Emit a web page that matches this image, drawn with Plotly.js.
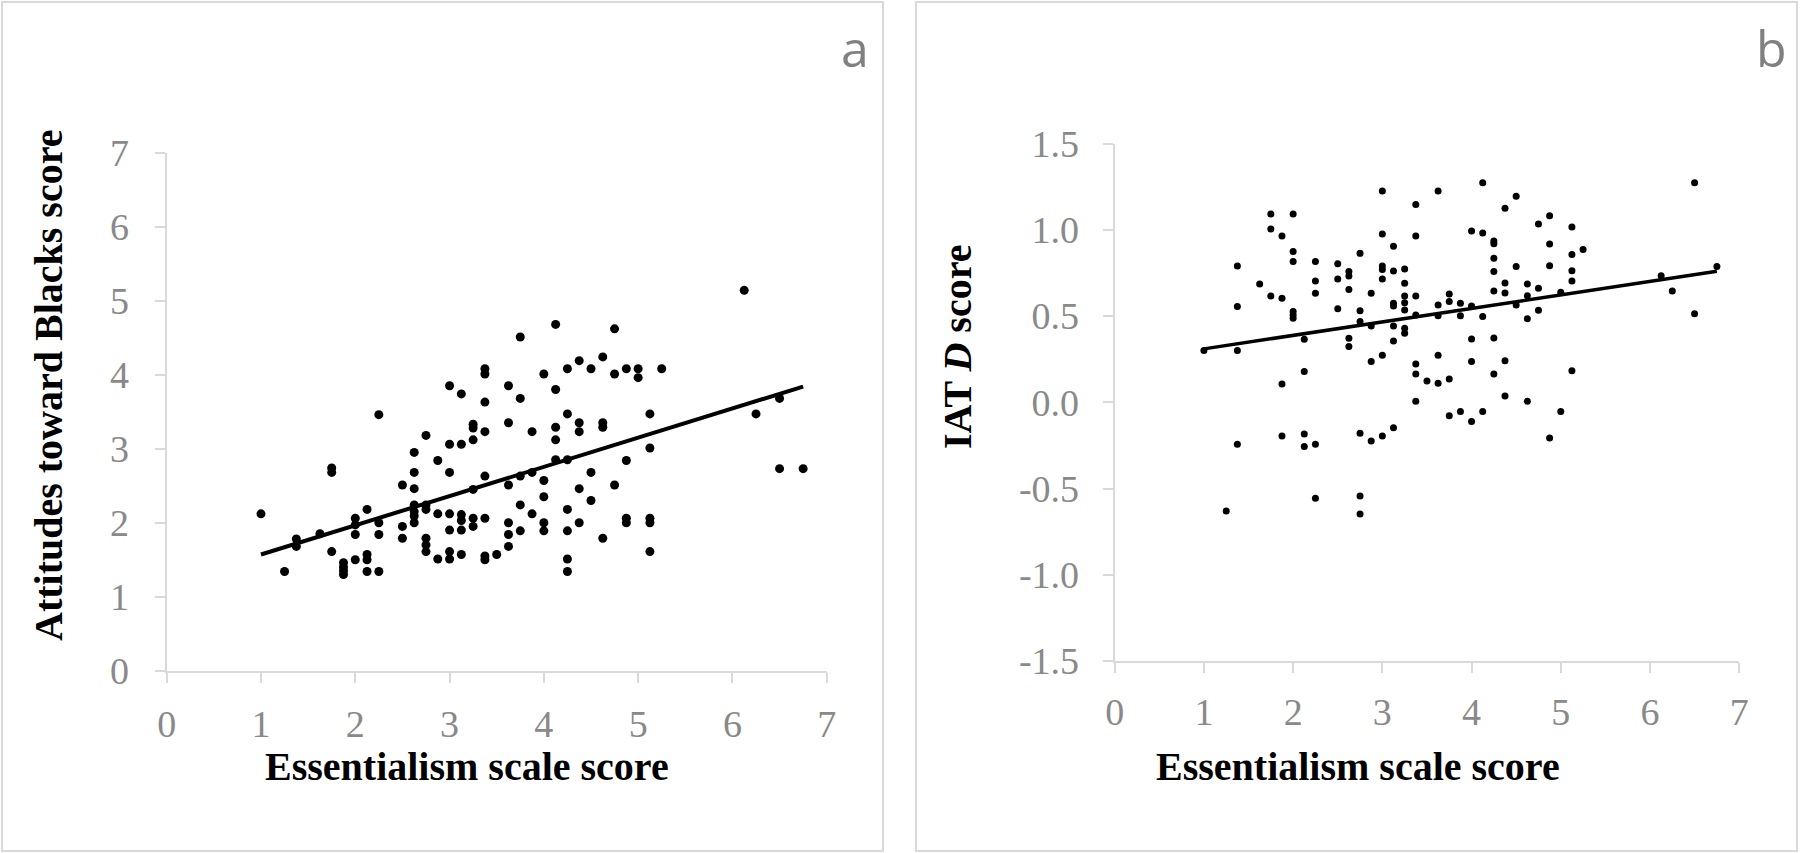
<!DOCTYPE html>
<html>
<head>
<meta charset="utf-8">
<script src="https://cdn.plot.ly/plotly-3.0.1.min.js"></script>
<style>html,body{margin:0;padding:0;background:#fff;}#chart{width:1800px;height:853px;}</style>
</head>
<body>
<div id="chart"></div>
<script>
// Panel a: Essentialism scale score vs Attitudes toward Blacks score
const essA = [1, 1.25, 1.375, 1.375, 1.625, 1.75, 1.75, 1.75,
  1.875, 1.875, 1.875, 1.875, 2, 2, 2, 2, 2.125, 2.125, 2.125, 2.125,
  2.25, 2.25, 2.25, 2.25, 2.5, 2.5, 2.5,
  2.625, 2.625, 2.625, 2.625, 2.625, 2.625, 2.625,
  2.75, 2.75, 2.75, 2.75, 2.75, 2.75, 2.875, 2.875, 2.875,
  3, 3, 3, 3, 3, 3, 3, 3.125, 3.125, 3.125, 3.125, 3.125, 3.125,
  3.25, 3.25, 3.25, 3.25, 3.25, 3.25,
  3.375, 3.375, 3.375, 3.375, 3.375, 3.375, 3.375, 3.375, 3.5,
  3.625, 3.625, 3.625, 3.625, 3.625, 3.625, 3.75, 3.75, 3.75, 3.75, 3.75,
  3.875, 3.875, 3.875, 4, 4, 4, 4, 4, 4.125, 4.125, 4.125, 4.125, 4.125,
  4.25, 4.25, 4.25, 4.25, 4.25, 4.25, 4.25, 4.375, 4.375, 4.375, 4.375, 4.375,
  4.5, 4.5, 4.5, 4.625, 4.625, 4.625, 4.625, 4.75, 4.75, 4.75,
  4.875, 4.875, 4.875, 4.875, 5, 5, 5.125, 5.125, 5.125, 5.125, 5.125, 5.25,
  6.125, 6.25, 6.5, 6.5, 6.75];
const attA = [2.12, 1.34, 1.78, 1.68, 1.85, 2.74, 2.68, 1.61,
  1.46, 1.40, 1.35, 1.30, 2.06, 1.97, 1.84, 1.50, 2.18, 1.57, 1.50, 1.34,
  3.46, 2.00, 1.84, 1.34, 2.51, 1.95, 1.79,
  2.95, 2.68, 2.46, 2.24, 2.15, 2.09, 2.00,
  3.18, 2.24, 2.18, 1.79, 1.70, 1.61, 2.84, 2.12, 1.51,
  3.85, 3.06, 2.68, 2.12, 1.90, 1.61, 1.51, 3.74, 3.06, 2.11, 2.03, 1.90, 1.57,
  3.33, 3.28, 3.12, 2.45, 2.06, 1.95,
  4.08, 4.01, 3.63, 3.23, 2.63, 2.06, 1.55, 1.50, 1.57,
  3.85, 3.35, 2.51, 2.00, 1.84, 1.68, 4.51, 3.68, 2.63, 2.24, 1.89,
  3.23, 2.68, 2.12, 4.01, 2.57, 2.35, 2.00, 1.89, 4.68, 3.80, 3.29, 3.12, 2.85,
  4.08, 3.47, 2.85, 2.18, 1.89, 1.51, 1.34, 4.19, 3.35, 3.23, 2.46, 2.00,
  4.08, 2.68, 2.30, 4.24, 3.35, 3.29, 1.79, 4.62, 4.01, 2.51,
  4.08, 2.84, 2.06, 2.00, 4.08, 3.96, 3.47, 3.01, 2.06, 2.00, 1.61, 4.08,
  5.14, 3.47, 3.68, 2.73, 2.73];
const trendAx = [1, 6.75];
const trendAy = [1.57, 3.84];

// Panel b: Essentialism scale score vs IAT D score
const essB = [1, 1.25, 1.375, 1.375, 1.375, 1.375, 1.625, 1.75, 1.75, 1.75,
  1.875, 1.875, 1.875, 1.875, 2, 2, 2, 2, 2, 2, 2.125, 2.125, 2.125, 2.125,
  2.25, 2.25, 2.25, 2.25, 2.25, 2.5, 2.5, 2.5, 2.625, 2.625, 2.625, 2.625, 2.625,
  2.75, 2.75, 2.75, 2.75, 2.75, 2.75, 2.875, 2.875, 2.875, 2.875,
  3, 3, 3, 3, 3, 3, 3, 3.125, 3.125, 3.125, 3.125, 3.125, 3.125, 3.125,
  3.25, 3.25, 3.25, 3.25, 3.25, 3.25, 3.25, 3.375, 3.375, 3.375, 3.375, 3.375, 3.375, 3.375,
  3.5, 3.625, 3.625, 3.625, 3.625, 3.625, 3.75, 3.75, 3.75, 3.75, 3.875, 3.875, 3.875,
  4, 4, 4, 4, 4, 4.125, 4.125, 4.125, 4.125,
  4.25, 4.25, 4.25, 4.25, 4.25, 4.25, 4.25, 4.375, 4.375, 4.375, 4.375, 4.375,
  4.5, 4.5, 4.5, 4.625, 4.625, 4.625, 4.625, 4.75, 4.75, 4.75,
  4.875, 4.875, 4.875, 4.875, 5, 5, 5.125, 5.125, 5.125, 5.125, 5.125, 5.25,
  6.125, 6.25, 6.5, 6.5, 6.75];
const iatB = [0.30, -0.63, 0.79, 0.555, 0.30, -0.244, 0.686, 1.092, 1.005, 0.617,
  0.965, 0.603, 0.106, -0.195, 1.092, 0.874, 0.816, 0.526, 0.506, 0.487, 0.365, 0.178, -0.184, -0.257,
  0.816, 0.704, 0.632, -0.244, -0.557, 0.804, 0.715, 0.543, 0.758, 0.733, 0.655, 0.371, 0.323,
  0.864, 0.531, 0.468, -0.180, -0.544, -0.648, 0.632, 0.443, 0.236, -0.224,
  1.226, 0.976, 0.791, 0.771, 0.715, 0.273, -0.195, 0.905, 0.762, 0.574, 0.559, 0.443, 0.356, -0.147,
  0.773, 0.690, 0.617, 0.578, 0.535, 0.429, 0.400, 1.148, 0.965, 0.617, 0.506, 0.222, 0.164, 0.006,
  0.124, 1.226, 0.564, 0.502, 0.273, 0.110, 0.628, 0.584, 0.135, -0.078, 0.574, 0.502, -0.054,
  0.994, 0.559, 0.367, 0.236, -0.112, 1.274, 0.982, 0.497, -0.054,
  0.936, 0.920, 0.835, 0.758, 0.646, 0.373, 0.164, 1.125, 0.692, 0.634, 0.241, 0.037,
  1.195, 0.787, 0.564, 0.686, 0.618, 0.485, 0.006, 1.034, 0.661, 0.534,
  1.082, 0.918, 0.792, -0.207, 0.638, -0.054, 1.017, 0.858, 0.763, 0.704, 0.183, 0.887,
  0.734, 0.646, 1.274, 0.514, 0.787];
const trendBx = [1, 6.75];
const trendBy = [0.31, 0.76];

// Tick labels
const xTickVals = [0, 1, 2, 3, 4, 5, 6, 7];
const xTickText = ['0', '1', '2', '3', '4', '5', '6', '7'];
const yTickValsA = [0, 1, 2, 3, 4, 5, 6, 7];
const yTickTextA = ['0', '1', '2', '3', '4', '5', '6', '7'];
const yTickValsB = [-1.5, -1.0, -0.5, 0, 0.5, 1.0, 1.5];
const yTickTextB = ['-1.5', '-1.0', '-0.5', '0.0', '0.5', '1.0', '1.5'];

const W = 1800, H = 853;
const px = v => v / W;
const py = v => (H - v) / H;

const axisGray = '#d9d9d9';
const tickFont = {family: 'Liberation Serif, Times New Roman, serif', size: 38, color: '#898989'};
const titleFont = {family: 'Liberation Serif, Times New Roman, serif', size: 40, color: '#000'};

function axisBase() {
  return {
    showgrid: false, zeroline: false, showline: true, linecolor: axisGray, linewidth: 2,
    ticks: 'outside', ticklen: 10, tickwidth: 2, tickcolor: axisGray,
    tickfont: tickFont, fixedrange: true, ticklabelstandoff: 9
  };
}

const traces = [
  {x: essA, y: attA, type: 'scatter', mode: 'markers', xaxis: 'x', yaxis: 'y',
   marker: {color: '#000', size: 9}, hoverinfo: 'skip'},
  {x: trendAx, y: trendAy, type: 'scatter', mode: 'lines', xaxis: 'x', yaxis: 'y',
   line: {color: '#000', width: 4}, hoverinfo: 'skip'},
  {x: essB, y: iatB, type: 'scatter', mode: 'markers', xaxis: 'x2', yaxis: 'y2',
   marker: {color: '#000', size: 7}, hoverinfo: 'skip'},
  {x: trendBx, y: trendBy, type: 'scatter', mode: 'lines', xaxis: 'x2', yaxis: 'y2',
   line: {color: '#000', width: 3.5}, hoverinfo: 'skip'}
];

const layout = {
  width: W, height: H, margin: {l: 0, r: 0, t: 0, b: 0},
  paper_bgcolor: '#fff', plot_bgcolor: '#fff', showlegend: false,
  xaxis: Object.assign(axisBase(), {domain: [px(166.7), px(826.7)], range: [0, 7], anchor: 'y',
    tickvals: xTickVals, ticktext: xTickText}),
  yaxis: Object.assign(axisBase(), {domain: [py(670.7), py(152.7)], range: [0, 7], anchor: 'x',
    tickvals: yTickValsA, ticktext: yTickTextA, ticklabelstandoff: 18}),
  xaxis2: Object.assign(axisBase(), {domain: [px(1114.7), px(1739.2)], range: [0, 7], anchor: 'y2',
    tickvals: xTickVals, ticktext: xTickText, ticklabelstandoff: 6}),
  yaxis2: Object.assign(axisBase(), {domain: [py(660.9), py(143.7)], range: [-1.5, 1.5], anchor: 'x2',
    tickvals: yTickValsB, ticktext: yTickTextB, ticklabelstandoff: 16}),
  shapes: [
    {type: 'rect', xref: 'paper', yref: 'paper', x0: px(2), x1: px(883), y0: py(851), y1: py(2),
     line: {color: axisGray, width: 2}},
    {type: 'rect', xref: 'paper', yref: 'paper', x0: px(916), x1: px(1797), y0: py(851), y1: py(2),
     line: {color: axisGray, width: 2}}
  ],
  annotations: [
    {text: '<b>Attitudes toward Blacks score</b>', xref: 'paper', yref: 'paper', x: px(48), y: py(386),
     xanchor: 'center', yanchor: 'middle', textangle: -90, showarrow: false, font: titleFont},
    {text: '<b>Essentialism scale score</b>', xref: 'paper', yref: 'paper', x: px(467), y: py(766),
     xanchor: 'center', yanchor: 'middle', showarrow: false, font: titleFont},
    {text: '<b>IAT <i>D</i> score</b>', xref: 'paper', yref: 'paper', x: px(957), y: py(347),
     xanchor: 'center', yanchor: 'middle', textangle: -90, showarrow: false, font: titleFont},
    {text: '<b>Essentialism scale score</b>', xref: 'paper', yref: 'paper', x: px(1358), y: py(766),
     xanchor: 'center', yanchor: 'middle', showarrow: false, font: titleFont},
    {text: 'a', xref: 'paper', yref: 'paper', x: px(855), y: py(48), xanchor: 'center', yanchor: 'middle',
     showarrow: false, font: {family: 'Open Sans, sans-serif', size: 50, color: '#808080'}},
    {text: 'b', xref: 'paper', yref: 'paper', x: px(1771), y: py(48), xanchor: 'center', yanchor: 'middle',
     showarrow: false, font: {family: 'Open Sans, sans-serif', size: 50, color: '#808080'}}
  ]
};

Plotly.newPlot('chart', traces, layout, {displayModeBar: false, staticPlot: true});
</script>
</body>
</html>
